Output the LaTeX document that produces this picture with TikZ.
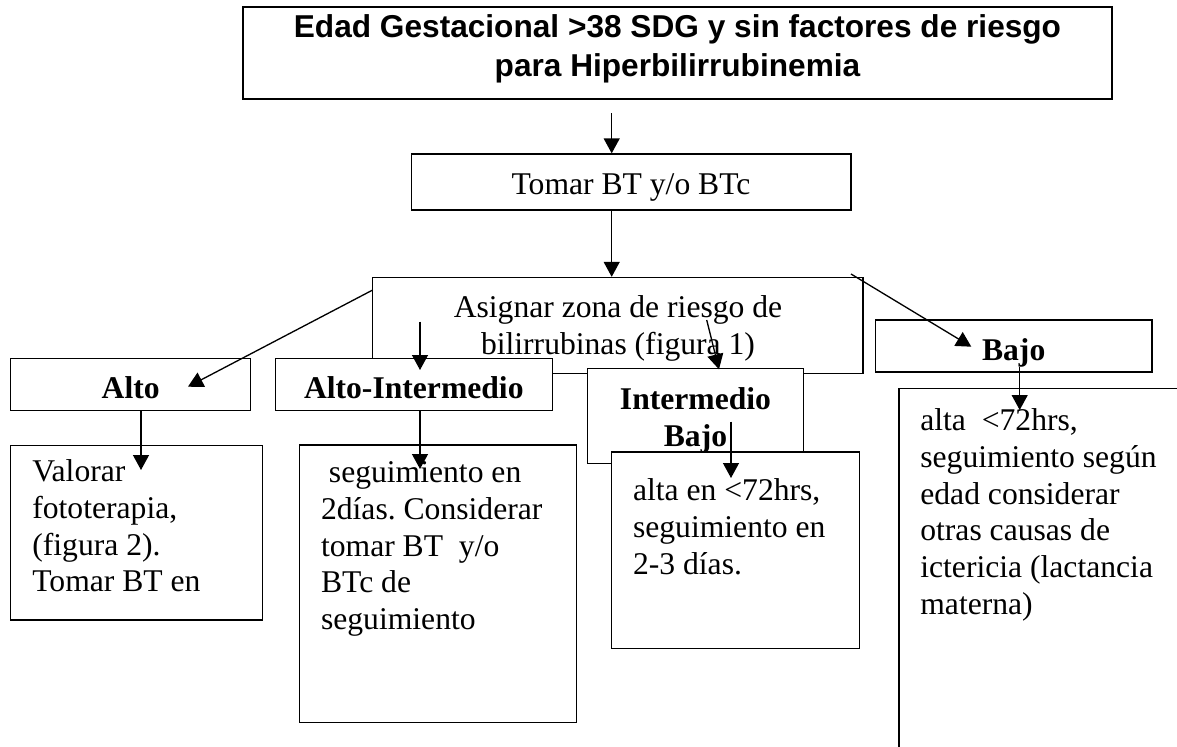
\documentclass[tikz,border=0pt]{standalone}
\usepackage{fontspec}
\setmainfont{Liberation Serif}
\setsansfont{Liberation Sans}
\usetikzlibrary{arrows.meta,fit}
\frenchspacing

\begin{document}
\begin{tikzpicture}[x=0.02cm,y=-0.02cm,
        box/.style={draw, fill=white, line width=0.75pt, inner sep=0pt},
        txt/.style={inner sep=0pt, font=\fontsize{18}{21}\selectfont},
        bold/.style={inner sep=0pt, font=\fontsize{18}{21}\selectfont\bfseries},
        arr/.style={-{Triangle[length=0.3cm,width=0.32cm]}, line width=0.75pt}]

        % Page
        \useasboundingbox (0,0) rectangle (1177,747);
        \fill[white] (0,0) rectangle (1177,747);

        % Title
        \node[box, line width=1pt, fit={(243,7) (1112,99)}] (top) {};
        \node[inner sep=0pt, anchor=north, align=center, font=\fontsize{18}{22}\selectfont\sffamily\bfseries]
            (toptxt) at (677.5,14.6) {Edad Gestacional >38 SDG y sin factores de riesgo\\para Hiperbilirrubinemia};

        % Take sample
        \node[box, fit={(411.7,154) (851,210)}] (tomar) {};
        \node[txt, anchor=base] (tomartxt) at (631,194) {Tomar BT y/o BTc};

        % Risk zone
        \node[box, fit={(372.7,277.5) (863,373.3)}] (asignar) {};
        \node[txt, anchor=north, align=center] (asignartxt) at (618,295)
            {Asignar zona de riesgo de\\bilirrubinas (figura 1)};

        % Zones
        \node[box, fit={(10.7,358.7) (250.7,410.7)}] (alto) {};
        \node[bold, anchor=base] (altotxt) at (130.7,398) {Alto};
        \node[box, fit={(275.3,358.5) (552.3,410.7)}] (altoint) {};
        \node[bold, anchor=base] (altointtxt) at (413.8,398) {Alto-Intermedio};
        \node[box, fit={(587.5,368.3) (803.5,463.3)}] (intbajo) {};
        \node[bold, anchor=north, align=center] (intbajotxt) at (695.5,387) {Intermedio\\Bajo};
        \node[box, fit={(875.3,320) (1152,372)}] (bajo) {};
        \node[bold, anchor=base] (bajotxt) at (1013.7,360) {Bajo};

        % Actions
        \node[box, fit={(10.7,445.7) (262.8,620)}] (valorar) {};
        \node[txt, anchor=north west, align=left] (valorartxt) at (32,459)
            {Valorar\\fototerapia,\\(figura 2).\\Tomar BT en};
        \node[box, fit={(299.5,445) (576.7,722.7)}] (seguim) {};
        \node[txt, anchor=north west, align=left] (seguimtxt) at (320.7,461)
            {\ seguimiento en\\2días. Considerar\\tomar BT~~y/o\\BTc de\\seguimiento};
        \node[box, fit={(611.5,452) (859.5,648.3)}] (altaen) {};
        \node[txt, anchor=north west, align=left] (altaentxt) at (632.7,478)
            {alta en <72hrs,\\seguimiento en\\2-3 días.};
        \begin{scope}
            \clip (0,0) rectangle (1177,747);
            \node[box, fit={(899,388.7) (1200,780)}] (alta) {};
        \end{scope}
        \node[txt, anchor=north west, align=left] (altatxt) at (920,408)
            {alta~~<72hrs,\\seguimiento según\\edad considerar\\otras causas de\\ictericia (lactancia\\materna)};

        % Arrow ends
        \coordinate (colA) at (611.7,0);
        \coordinate (tomarS) at (611.7,113);
        \coordinate (altoS) at (372.7,290);
        \coordinate (altoE) at (188,386.7);
        \coordinate (altointS) at (420,321.7);
        \coordinate (altointE) at (420,370);
        \coordinate (intbajoS) at (706.7,320);
        \coordinate (intbajoE) at (719,369.3);
        \coordinate (bajoS) at (851,274);
        \coordinate (bajoE) at (971.3,346.7);
        \coordinate (valorarE) at (141,470);
        \coordinate (seguimE) at (420,469);
        \coordinate (altaenS) at (731,421.7);
        \coordinate (altaenE) at (731,478);
        \coordinate (altaS) at (1019.7,367);
        \coordinate (altaE) at (1019.7,410);

        % Arrows
        \draw[arr] (tomarS) -- (tomar.north -| colA);
        \draw[arr] (tomar.south -| colA) -- (asignar.north -| colA);
        \draw[arr] (altoS) -- (altoE);
        \draw[arr] (altointS) -- (altointE);
        \draw[arr] (intbajoS) -- (intbajoE);
        \draw[arr] (bajoS) -- (bajoE);
        \draw[arr] (alto.south -| valorarE) -- (valorarE);
        \draw[arr] (altoint.south -| seguimE) -- (seguimE);
        \draw[arr] (altaenS) -- (altaenE);
        \draw[arr] (altaS) -- (altaE);

\end{tikzpicture}
\end{document}
